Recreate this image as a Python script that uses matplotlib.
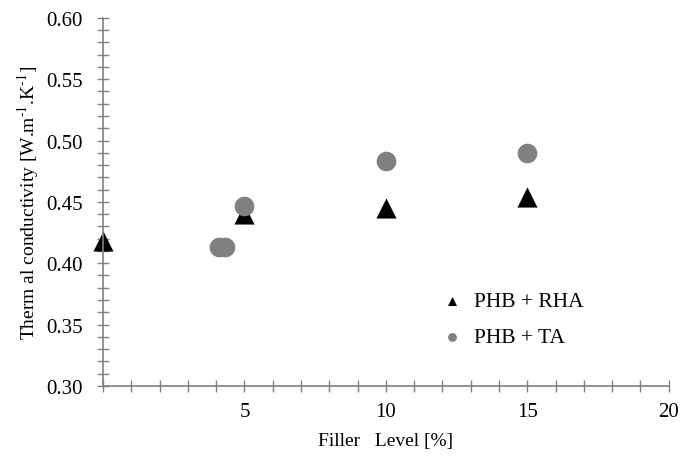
import matplotlib.pyplot as plt
from matplotlib.ticker import MultipleLocator, FixedLocator

plt.rcParams['font.family'] = ['Liberation Serif', 'DejaVu Serif']
plt.rcParams['mathtext.fontset'] = 'stix'

#=== DONNEES ===
x_rha = [0, 5, 10, 15]
y_rha = [0.418, 0.440, 0.445, 0.454]

x_ta = [4.1, 4.3, 5, 10, 15]
y_ta = [0.413, 0.413, 0.447, 0.483, 0.490]

xticks = [5, 10, 15, 20]
yticks = [0.30, 0.35, 0.40, 0.45, 0.50, 0.55, 0.60]

#=== TRACE ===
fig = plt.figure(figsize=(6.8, 4.6), dpi=100)
ax = fig.add_axes([0.1515, 0.159, 0.832, 0.8])

ax.scatter(x_ta, y_ta, marker='o', s=200, color='#808080', linewidths=0,
           label='PHB + TA', zorder=3, clip_on=False)
ax.scatter(x_rha, y_rha, marker='^', s=210, color='black', linewidths=0,
           label='PHB + RHA', zorder=2, clip_on=False)

ax.set_xlim(0, 20)
ax.set_ylim(0.30, 0.60)
ax.xaxis.set_major_locator(FixedLocator(xticks))
ax.xaxis.set_minor_locator(MultipleLocator(1))
ax.yaxis.set_major_locator(FixedLocator(yticks))
ax.yaxis.set_minor_locator(MultipleLocator(0.01))
ax.set_yticklabels(['%.2f' % v for v in yticks])

for s in ['top', 'right']:
    ax.spines[s].set_visible(False)
for s in ['left', 'bottom']:
    ax.spines[s].set_color('#808080')
    ax.spines[s].set_linewidth(1.2)

ax.tick_params(which='both', direction='inout', color='#808080', width=1.0,
               length=9, labelsize=15)
ax.tick_params(axis='x', pad=7)
ax.tick_params(axis='y', pad=10)

ax.set_xlabel('Filler   Level [%]', fontsize=14, labelpad=8)
ax.set_ylabel('Therm al conductivity [W.m$^{\\text{-}1}$.K$^{\\text{-}1}$]', fontsize=14, labelpad=4)

h, l = ax.get_legend_handles_labels()
ax.legend([h[1], h[0]], [l[1], l[0]], frameon=False, fontsize=15.5,
          markerscale=0.45, handletextpad=0.0, labelspacing=0.75,
          loc='upper left', bbox_to_anchor=(0.545, 0.31))

plt.savefig('out.png', dpi=100)
